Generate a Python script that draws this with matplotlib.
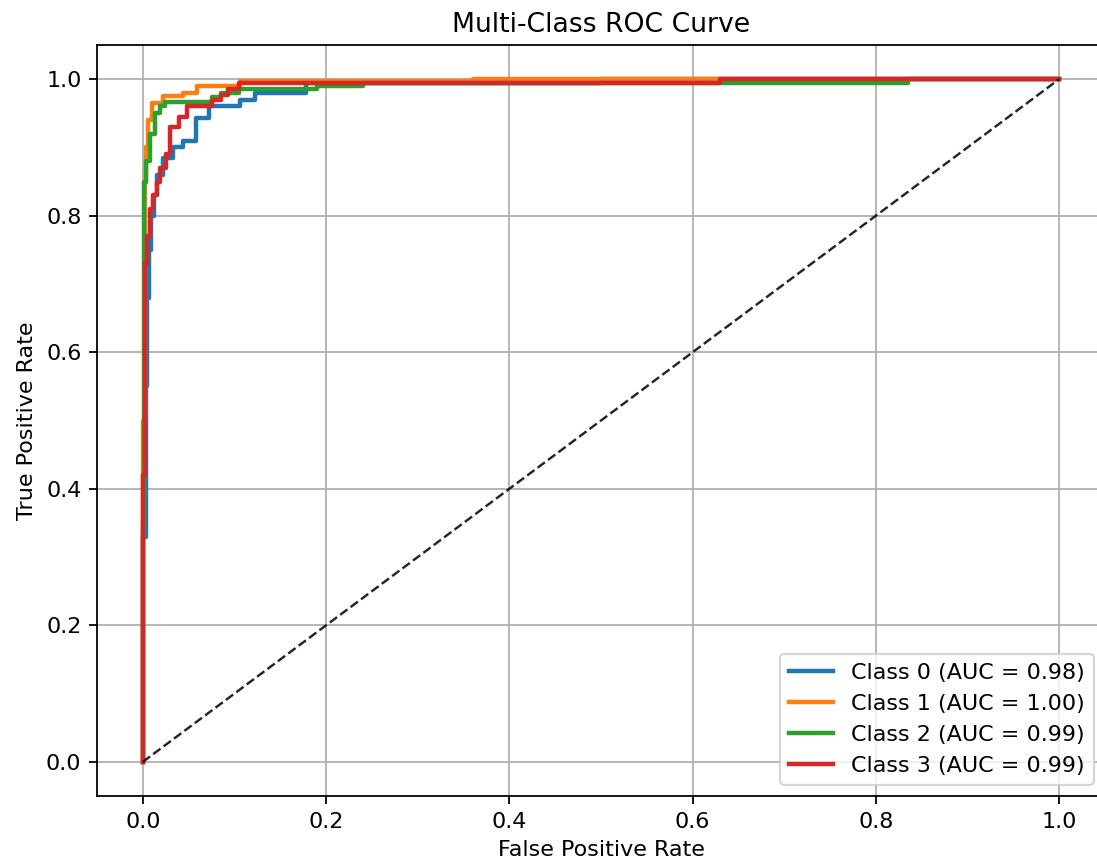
import matplotlib
matplotlib.use("Agg")
import matplotlib.pyplot as plt

# Class 0 (blue)
fpr0 = [0.0, 0.0, 0.003, 0.003, 0.005, 0.005, 0.007, 0.007, 0.009, 0.009, 0.012, 0.012, 0.016, 0.016,
        0.022, 0.022, 0.033, 0.033, 0.044, 0.044, 0.058, 0.058, 0.072, 0.072, 0.106, 0.106, 0.122, 0.122,
        0.178, 0.178, 0.5, 0.5, 1.0]
tpr0 = [0.0, 0.33, 0.33, 0.55, 0.55, 0.68, 0.68, 0.75, 0.75, 0.80, 0.80, 0.83, 0.83, 0.86,
        0.86, 0.885, 0.885, 0.90, 0.90, 0.91, 0.91, 0.943, 0.943, 0.96, 0.96, 0.97, 0.97, 0.98,
        0.98, 0.995, 0.995, 1.0, 1.0]
# Class 1 (orange)
fpr1 = [0.0, 0.0, 0.002, 0.002, 0.004, 0.004, 0.006, 0.006, 0.010, 0.010, 0.022, 0.022, 0.044, 0.044,
        0.059, 0.059, 0.106, 0.106, 0.36, 0.36, 1.0]
tpr1 = [0.0, 0.50, 0.50, 0.85, 0.85, 0.90, 0.90, 0.94, 0.94, 0.965, 0.965, 0.975, 0.975, 0.98,
        0.98, 0.99, 0.99, 0.997, 0.997, 1.0, 1.0]
# Class 2 (green)
fpr2 = [0.0, 0.0, 0.001, 0.001, 0.004, 0.004, 0.008, 0.008, 0.013, 0.013, 0.019, 0.019, 0.024, 0.024,
        0.075, 0.075, 0.085, 0.085, 0.105, 0.105, 0.19, 0.19, 0.24, 0.24, 0.835, 0.835, 1.0]
tpr2 = [0.0, 0.35, 0.35, 0.85, 0.85, 0.88, 0.88, 0.92, 0.92, 0.95, 0.95, 0.96, 0.96, 0.966,
        0.966, 0.974, 0.974, 0.98, 0.98, 0.985, 0.985, 0.99, 0.99, 0.995, 0.995, 1.0, 1.0]
# Class 3 (red)
fpr3 = [0.0, 0.0, 0.002, 0.002, 0.005, 0.005, 0.008, 0.008, 0.011, 0.011, 0.015, 0.015, 0.019, 0.019,
        0.025, 0.025, 0.030, 0.030, 0.040, 0.040, 0.048, 0.048, 0.075, 0.075, 0.085, 0.085, 0.093, 0.093,
        0.105, 0.105, 0.63, 0.63, 1.0]
tpr3 = [0.0, 0.42, 0.42, 0.73, 0.73, 0.77, 0.77, 0.81, 0.81, 0.83, 0.83, 0.85, 0.85, 0.87,
        0.87, 0.89, 0.89, 0.93, 0.93, 0.945, 0.945, 0.96, 0.96, 0.97, 0.97, 0.977, 0.977, 0.985,
        0.985, 0.995, 0.995, 1.0, 1.0]

aucs = [0.98, 1.00, 0.99, 0.99]
class_names = ["Class 0", "Class 1", "Class 2", "Class 3"]
fprs = [fpr0, fpr1, fpr2, fpr3]
tprs = [tpr0, tpr1, tpr2, tpr3]
colors = ["#1f77b4", "#ff7f0e", "#2ca02c", "#d62728"]

W, H, DPI = 1097, 867, 160
fig = plt.figure(figsize=(W / DPI, H / DPI), dpi=DPI)
left, right, top, bottom = 97, 1105, 45, 796
ax = fig.add_axes([left / W, 1 - bottom / H, (right - left) / W, (bottom - top) / H])
for f, t, c, n, a in zip(fprs, tprs, colors, class_names, aucs):
    ax.plot(f, t, color=c, lw=2, label=f"{n} (AUC = {a:.2f})")
ax.plot([0, 1], [0, 1], "k--", lw=1.1, alpha=0.85)
ax.set_xlim(-0.05, 1.05)
ax.set_ylim(-0.05, 1.05)
ax.set_xlabel("False Positive Rate")
ax.set_ylabel("True Positive Rate")
ax.set_title("Multi-Class ROC Curve")
ax.legend(loc="lower right")
ax.grid(True)
fig.savefig("out.png", dpi=DPI)
